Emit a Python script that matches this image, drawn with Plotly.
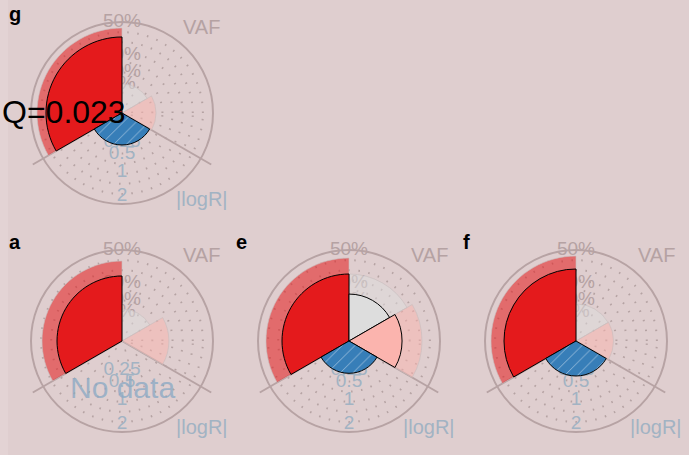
import numpy as np
import plotly.graph_objects as go

W, H = 689, 455

# panel data (VAF fractions on the upper/right sectors, |logR| on the bottom one)
panels = ["g", "a", "e", "f"]
red_bg = [0.436, 0.386, 0.416, 0.436]
red = [0.349, 0.255, 0.271, 0.313]
gray_bg = [0.051, 0.062, 0.271, 0.083]
gray = [0.0, 0.0, 0.133, 0.0]
pink_bg = [0.070, 0.133, 0.322, 0.085]
pink = [0.0, 0.0, 0.170, 0.0]
logr = [0.294, None, 0.30, 0.352]
q_text = ["Q=0.023", "", "", ""]

vaf_ticks = [0.05, 0.10, 0.20, 0.50]
vaf_labels = ["5%", "10%", "20%", "50%"]
logr_ticks = [0.25, 0.5, 1, 2]
logr_labels = ["0.25", "0.5", "1", "2"]

VAF_FULL = 0.5      # VAF at the outer circle
LOGR_FULL = 2.38    # |logR| at the outer circle
R_OUT, R_EXT = 91, 103
centers = [(122, 113), (122, 341), (349, 341), (576, 341)]

BG = "#DFCECF"
FRAME = "#B7A3A4"
VAF_COL = "#B5A2A3"
LOGR_COL = "#A2B3C3"


def r_vaf(v):
    return np.sqrt(np.asarray(v, dtype=float) / VAF_FULL)


def r_logr(v):
    return np.sqrt(np.asarray(v, dtype=float) / LOGR_FULL)


def domain(cx, cy, r):
    return dict(x=[(cx - r) / W, (cx + r) / W], y=[1 - (cy + r) / H, 1 - (cy - r) / H])


fig = go.Figure()
annotations = []
layout = {}

for i, name in enumerate(panels):
    cx, cy = centers[i]
    back = "polar" if i == 0 else f"polar{2 * i + 1}"
    front = f"polar{2 * i + 2}"

    # back layer: frame, dotted rings and the scale labels
    layout[back] = dict(
        domain=domain(cx, cy, R_OUT),
        bgcolor="rgba(0,0,0,0)",
        radialaxis=dict(range=[0, 1], tickvals=[n / 9 for n in range(1, 9)],
                        showgrid=True, gridcolor="rgba(140,120,120,0.5)", gridwidth=1.5,
                        griddash="1.5px,8.5px", showline=False, showticklabels=False, ticks=""),
        angularaxis=dict(showline=True, linecolor=FRAME, linewidth=2, showgrid=False,
                         showticklabels=False, ticks=""),
    )
    layout[front] = dict(
        domain=domain(cx, cy, R_EXT),
        bgcolor="rgba(0,0,0,0)",
        barmode="overlay",
        radialaxis=dict(range=[0, R_EXT / R_OUT], showgrid=False, showline=False,
                        showticklabels=False, ticks=""),
        angularaxis=dict(tickvals=[210, 330], showgrid=True, gridcolor=FRAME, gridwidth=2,
                         showline=False, showticklabels=False, ticks=""),
    )

    fig.add_trace(go.Scatterpolar(
        r=r_vaf(vaf_ticks), theta=[90] * len(vaf_ticks), text=vaf_labels, mode="text",
        textfont=dict(size=19, color=VAF_COL), cliponaxis=False, hoverinfo="skip",
        showlegend=False, subplot=back))
    fig.add_trace(go.Scatterpolar(
        r=r_logr(logr_ticks), theta=[270] * len(logr_ticks), text=logr_labels, mode="text",
        textfont=dict(size=19, color=LOGR_COL), cliponaxis=False, hoverinfo="skip",
        showlegend=False, subplot=back))

    # translucent sectors
    fig.add_trace(go.Barpolar(
        r=r_vaf([red_bg[i], gray_bg[i], pink_bg[i]]), theta=[150, 60, 0], width=[120, 60, 60],
        marker=dict(color=["rgba(228,26,28,0.55)", "rgba(222,222,222,0.5)", "rgba(251,180,174,0.5)"],
                    line=dict(color="rgba(200,190,190,0.6)", width=1)),
        hoverinfo="skip", showlegend=False, subplot=front))
    # solid sectors
    fig.add_trace(go.Barpolar(
        r=r_vaf([red[i], gray[i], pink[i]]), theta=[150, 60, 0], width=[120, 60, 60],
        marker=dict(color=["#E41A1C", "#DDDDDD", "#FBB4AE"], line=dict(color="black", width=1)),
        hoverinfo="skip", showlegend=False, subplot=front))
    if logr[i] is not None:
        fig.add_trace(go.Barpolar(
            r=r_logr([logr[i]]), theta=[270], width=[120],
            marker=dict(color="#377EB8", line=dict(color="black", width=1),
                        pattern=dict(shape="/", fgcolor="white", size=9, solidity=0.1,
                                     fillmode="overlay")),
            hoverinfo="skip", showlegend=False, subplot=front))

    annotations.append(dict(text="<b>%s</b>" % name, x=(cx - 115) / W, y=1 - (cy - 99) / H,
                            xanchor="left", yanchor="middle", font=dict(size=20, color="black")))
    annotations.append(dict(text="VAF", x=(cx + 80) / W, y=1 - (cy - 86) / H,
                            xanchor="center", yanchor="middle", font=dict(size=20, color=VAF_COL)))
    annotations.append(dict(text="|logR|", x=(cx + 80) / W, y=1 - (cy + 86) / H,
                            xanchor="center", yanchor="middle", font=dict(size=20, color=LOGR_COL)))
    if q_text[i]:
        annotations.append(dict(text=q_text[i], x=(cx - 58) / W, y=1 - (cy - 1) / H,
                                xanchor="center", yanchor="middle", font=dict(size=32, color="black")))
    if logr[i] is None:
        annotations.append(dict(text="No data", x=cx / W, y=1 - (cy + 46) / H,
                                xanchor="center", yanchor="middle",
                                font=dict(size=30, color="rgba(140,170,196,0.8)")))

for a in annotations:
    a.update(xref="paper", yref="paper", showarrow=False)

fig.update_layout(
    width=W, height=H, autosize=False,
    margin=dict(l=0, r=0, t=0, b=0),
    paper_bgcolor=BG,
    font=dict(family="Liberation Sans, Arial, sans-serif"),
    annotations=annotations,
    shapes=[dict(type="rect", xref="paper", yref="paper", x0=0, x1=8 / W, y0=0, y1=1,
                 fillcolor="#E3D3D4", line=dict(width=0), layer="below")],
    **layout,
)

# drop the default page margin so the figure sits at the window's corner
fig.write_html("out.html", config={"displayModeBar": False},
               post_script="document.body.style.margin='0';")
